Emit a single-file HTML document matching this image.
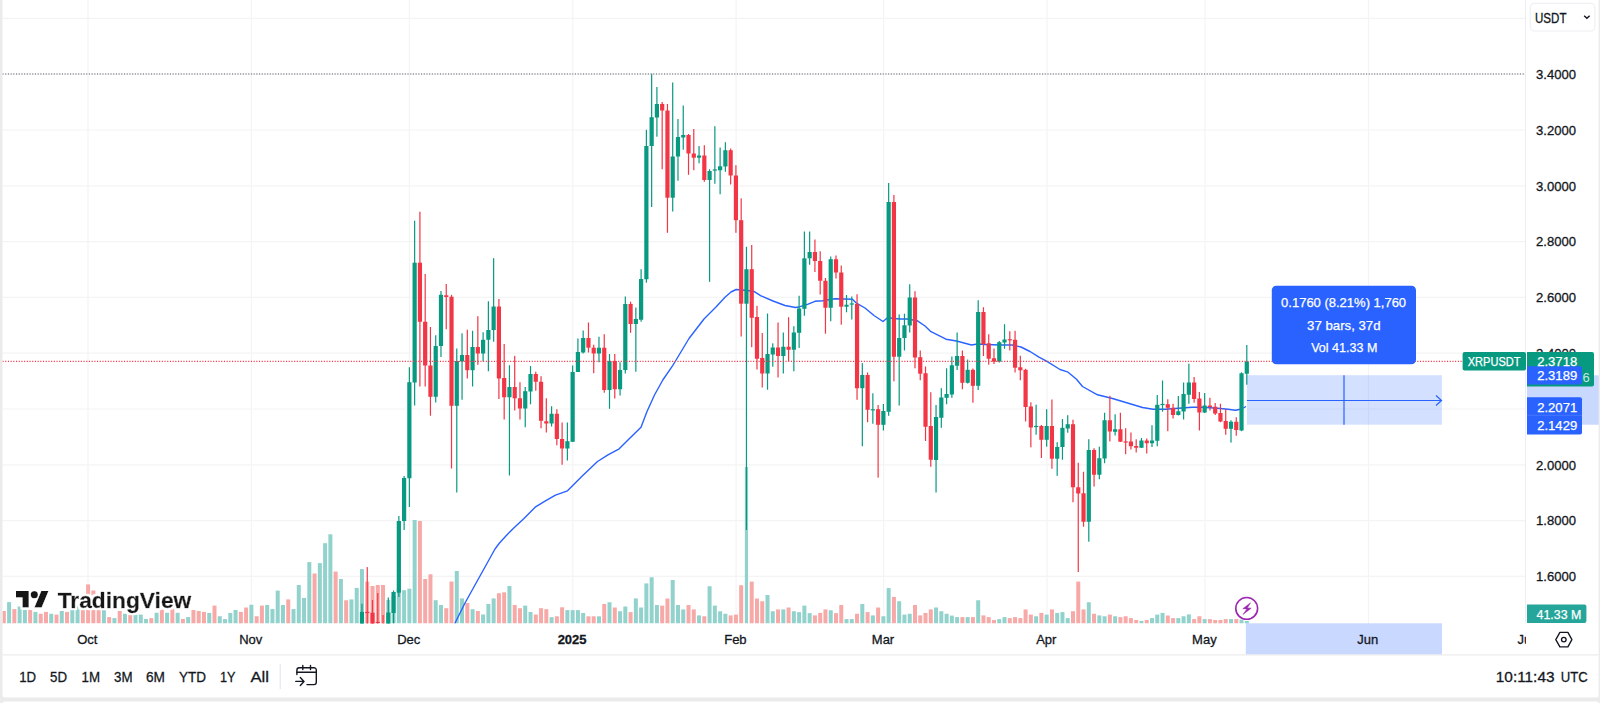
<!DOCTYPE html>
<html lang="en"><head><meta charset="utf-8"><title>XRPUSDT chart</title>
<style>html,body{margin:0;padding:0;background:#fff;overflow:hidden}body{width:1600px;height:703px;position:relative;font-family:"Liberation Sans", sans-serif}svg{position:absolute;left:0;top:0;display:block}text{font-family:"Liberation Sans", sans-serif;fill:#131722;stroke:#131722;stroke-width:.3px}.ax{font-size:13px}.tb{font-size:15px}.w{fill:#fff;stroke:#fff;stroke-width:.25px}</style></head><body>
<svg width="1600" height="703" viewBox="0 0 1600 703">
<rect x="0" y="0" width="1600" height="703" fill="#fff"/>
<defs><clipPath id="pane"><rect x="2.5" y="0" width="1523.5" height="623.5"/></clipPath><clipPath id="taxis"><rect x="2.5" y="623" width="1523.5" height="33"/></clipPath></defs>
<g stroke="#f4f4f5" stroke-width="1.2" shape-rendering="auto">
<line x1="88.0" y1="0" x2="88.0" y2="623.5"/>
<line x1="251.4" y1="0" x2="251.4" y2="623.5"/>
<line x1="409.4" y1="0" x2="409.4" y2="623.5"/>
<line x1="572.8" y1="0" x2="572.8" y2="623.5"/>
<line x1="736.1" y1="0" x2="736.1" y2="623.5"/>
<line x1="883.7" y1="0" x2="883.7" y2="623.5"/>
<line x1="1047.0" y1="0" x2="1047.0" y2="623.5"/>
<line x1="1205.1" y1="0" x2="1205.1" y2="623.5"/>
<line x1="1368.5" y1="0" x2="1368.5" y2="623.5"/>
<line x1="2.5" y1="18.4" x2="1526.0" y2="18.4"/>
<line x1="2.5" y1="74.2" x2="1526.0" y2="74.2"/>
<line x1="2.5" y1="130.0" x2="1526.0" y2="130.0"/>
<line x1="2.5" y1="185.8" x2="1526.0" y2="185.8"/>
<line x1="2.5" y1="241.6" x2="1526.0" y2="241.6"/>
<line x1="2.5" y1="297.4" x2="1526.0" y2="297.4"/>
<line x1="2.5" y1="353.2" x2="1526.0" y2="353.2"/>
<line x1="2.5" y1="409.0" x2="1526.0" y2="409.0"/>
<line x1="2.5" y1="464.8" x2="1526.0" y2="464.8"/>
<line x1="2.5" y1="520.6" x2="1526.0" y2="520.6"/>
<line x1="2.5" y1="576.4" x2="1526.0" y2="576.4"/>
</g>
<g clip-path="url(#pane)">
<rect x="1.83" y="611.00" width="4.0" height="12.50" fill="#f7a9a7"/>
<rect x="7.10" y="602.10" width="4.0" height="21.40" fill="#92d2cc"/>
<rect x="12.36" y="609.10" width="4.0" height="14.40" fill="#f7a9a7"/>
<rect x="17.63" y="606.50" width="4.0" height="17.00" fill="#92d2cc"/>
<rect x="22.90" y="610.00" width="4.0" height="13.50" fill="#92d2cc"/>
<rect x="28.17" y="610.00" width="4.0" height="13.50" fill="#f7a9a7"/>
<rect x="33.43" y="611.90" width="4.0" height="11.60" fill="#92d2cc"/>
<rect x="38.70" y="613.75" width="4.0" height="9.75" fill="#f7a9a7"/>
<rect x="43.97" y="611.90" width="4.0" height="11.60" fill="#f7a9a7"/>
<rect x="49.23" y="613.75" width="4.0" height="9.75" fill="#92d2cc"/>
<rect x="54.50" y="614.60" width="4.0" height="8.90" fill="#f7a9a7"/>
<rect x="59.77" y="611.00" width="4.0" height="12.50" fill="#92d2cc"/>
<rect x="65.03" y="611.90" width="4.0" height="11.60" fill="#f7a9a7"/>
<rect x="70.30" y="610.00" width="4.0" height="13.50" fill="#92d2cc"/>
<rect x="75.57" y="606.50" width="4.0" height="17.00" fill="#92d2cc"/>
<rect x="80.83" y="610.00" width="4.0" height="13.50" fill="#f7a9a7"/>
<rect x="86.10" y="584.40" width="4.0" height="39.10" fill="#f7a9a7"/>
<rect x="91.37" y="590.50" width="4.0" height="33.00" fill="#f7a9a7"/>
<rect x="96.63" y="610.00" width="4.0" height="13.50" fill="#f7a9a7"/>
<rect x="101.90" y="610.00" width="4.0" height="13.50" fill="#92d2cc"/>
<rect x="107.17" y="617.10" width="4.0" height="6.40" fill="#f7a9a7"/>
<rect x="112.43" y="618.10" width="4.0" height="5.40" fill="#92d2cc"/>
<rect x="117.70" y="611.00" width="4.0" height="12.50" fill="#f7a9a7"/>
<rect x="122.97" y="613.75" width="4.0" height="9.75" fill="#92d2cc"/>
<rect x="128.23" y="615.00" width="4.0" height="8.50" fill="#f7a9a7"/>
<rect x="133.50" y="614.40" width="4.0" height="9.10" fill="#92d2cc"/>
<rect x="138.77" y="614.60" width="4.0" height="8.90" fill="#92d2cc"/>
<rect x="144.03" y="619.00" width="4.0" height="4.50" fill="#92d2cc"/>
<rect x="149.30" y="618.10" width="4.0" height="5.40" fill="#f7a9a7"/>
<rect x="154.57" y="612.75" width="4.0" height="10.75" fill="#92d2cc"/>
<rect x="159.84" y="609.40" width="4.0" height="14.10" fill="#f7a9a7"/>
<rect x="165.10" y="612.75" width="4.0" height="10.75" fill="#92d2cc"/>
<rect x="170.37" y="608.75" width="4.0" height="14.75" fill="#f7a9a7"/>
<rect x="175.64" y="612.75" width="4.0" height="10.75" fill="#92d2cc"/>
<rect x="180.90" y="619.00" width="4.0" height="4.50" fill="#f7a9a7"/>
<rect x="186.17" y="617.10" width="4.0" height="6.40" fill="#92d2cc"/>
<rect x="191.44" y="610.00" width="4.0" height="13.50" fill="#f7a9a7"/>
<rect x="196.70" y="611.00" width="4.0" height="12.50" fill="#f7a9a7"/>
<rect x="201.97" y="611.90" width="4.0" height="11.60" fill="#f7a9a7"/>
<rect x="207.24" y="612.90" width="4.0" height="10.60" fill="#92d2cc"/>
<rect x="212.50" y="605.60" width="4.0" height="17.90" fill="#f7a9a7"/>
<rect x="217.77" y="616.25" width="4.0" height="7.25" fill="#92d2cc"/>
<rect x="223.04" y="619.10" width="4.0" height="4.40" fill="#92d2cc"/>
<rect x="228.30" y="612.90" width="4.0" height="10.60" fill="#92d2cc"/>
<rect x="233.57" y="610.00" width="4.0" height="13.50" fill="#92d2cc"/>
<rect x="238.84" y="611.90" width="4.0" height="11.60" fill="#f7a9a7"/>
<rect x="244.10" y="607.50" width="4.0" height="16.00" fill="#f7a9a7"/>
<rect x="249.37" y="604.75" width="4.0" height="18.75" fill="#92d2cc"/>
<rect x="254.64" y="616.25" width="4.0" height="7.25" fill="#f7a9a7"/>
<rect x="259.90" y="605.60" width="4.0" height="17.90" fill="#f7a9a7"/>
<rect x="265.17" y="605.00" width="4.0" height="18.50" fill="#92d2cc"/>
<rect x="270.44" y="609.10" width="4.0" height="14.40" fill="#92d2cc"/>
<rect x="275.70" y="590.60" width="4.0" height="32.90" fill="#92d2cc"/>
<rect x="280.97" y="605.00" width="4.0" height="18.50" fill="#92d2cc"/>
<rect x="286.24" y="599.40" width="4.0" height="24.10" fill="#f7a9a7"/>
<rect x="291.51" y="609.10" width="4.0" height="14.40" fill="#92d2cc"/>
<rect x="296.77" y="585.00" width="4.0" height="38.50" fill="#92d2cc"/>
<rect x="302.04" y="597.90" width="4.0" height="25.60" fill="#92d2cc"/>
<rect x="307.31" y="562.10" width="4.0" height="61.40" fill="#92d2cc"/>
<rect x="312.57" y="573.50" width="4.0" height="50.00" fill="#f7a9a7"/>
<rect x="317.84" y="563.10" width="4.0" height="60.40" fill="#92d2cc"/>
<rect x="323.11" y="543.20" width="4.0" height="80.30" fill="#92d2cc"/>
<rect x="328.37" y="534.30" width="4.0" height="89.20" fill="#92d2cc"/>
<rect x="333.64" y="571.60" width="4.0" height="51.90" fill="#f7a9a7"/>
<rect x="338.91" y="579.00" width="4.0" height="44.50" fill="#92d2cc"/>
<rect x="344.17" y="600.25" width="4.0" height="23.25" fill="#f7a9a7"/>
<rect x="349.44" y="599.40" width="4.0" height="24.10" fill="#92d2cc"/>
<rect x="354.71" y="587.90" width="4.0" height="35.60" fill="#92d2cc"/>
<rect x="359.97" y="569.10" width="4.0" height="54.40" fill="#92d2cc"/>
<rect x="365.24" y="581.60" width="4.0" height="41.90" fill="#f7a9a7"/>
<rect x="370.51" y="586.00" width="4.0" height="37.50" fill="#f7a9a7"/>
<rect x="375.77" y="585.00" width="4.0" height="38.50" fill="#f7a9a7"/>
<rect x="381.04" y="585.00" width="4.0" height="38.50" fill="#f7a9a7"/>
<rect x="386.31" y="600.00" width="4.0" height="23.50" fill="#92d2cc"/>
<rect x="391.57" y="596.00" width="4.0" height="27.50" fill="#92d2cc"/>
<rect x="396.84" y="588.00" width="4.0" height="35.50" fill="#92d2cc"/>
<rect x="402.11" y="590.20" width="4.0" height="33.30" fill="#92d2cc"/>
<rect x="407.37" y="588.70" width="4.0" height="34.80" fill="#92d2cc"/>
<rect x="412.64" y="520.00" width="4.0" height="103.50" fill="#92d2cc"/>
<rect x="417.91" y="521.00" width="4.0" height="102.50" fill="#f7a9a7"/>
<rect x="423.18" y="579.00" width="4.0" height="44.50" fill="#f7a9a7"/>
<rect x="428.44" y="574.30" width="4.0" height="49.20" fill="#f7a9a7"/>
<rect x="433.71" y="600.20" width="4.0" height="23.30" fill="#92d2cc"/>
<rect x="438.98" y="605.00" width="4.0" height="18.50" fill="#92d2cc"/>
<rect x="444.24" y="608.20" width="4.0" height="15.30" fill="#f7a9a7"/>
<rect x="449.51" y="581.50" width="4.0" height="42.00" fill="#f7a9a7"/>
<rect x="454.78" y="571.00" width="4.0" height="52.50" fill="#92d2cc"/>
<rect x="460.04" y="598.40" width="4.0" height="25.10" fill="#92d2cc"/>
<rect x="465.31" y="603.00" width="4.0" height="20.50" fill="#f7a9a7"/>
<rect x="470.58" y="609.20" width="4.0" height="14.30" fill="#92d2cc"/>
<rect x="475.84" y="611.00" width="4.0" height="12.50" fill="#f7a9a7"/>
<rect x="481.11" y="614.50" width="4.0" height="9.00" fill="#92d2cc"/>
<rect x="486.38" y="604.00" width="4.0" height="19.50" fill="#92d2cc"/>
<rect x="491.64" y="598.40" width="4.0" height="25.10" fill="#92d2cc"/>
<rect x="496.91" y="593.20" width="4.0" height="30.30" fill="#f7a9a7"/>
<rect x="502.18" y="592.30" width="4.0" height="31.20" fill="#f7a9a7"/>
<rect x="507.44" y="586.00" width="4.0" height="37.50" fill="#92d2cc"/>
<rect x="512.71" y="605.00" width="4.0" height="18.50" fill="#f7a9a7"/>
<rect x="517.98" y="608.20" width="4.0" height="15.30" fill="#f7a9a7"/>
<rect x="523.24" y="605.60" width="4.0" height="17.90" fill="#92d2cc"/>
<rect x="528.51" y="612.00" width="4.0" height="11.50" fill="#92d2cc"/>
<rect x="533.78" y="614.50" width="4.0" height="9.00" fill="#f7a9a7"/>
<rect x="539.04" y="608.20" width="4.0" height="15.30" fill="#f7a9a7"/>
<rect x="544.31" y="609.20" width="4.0" height="14.30" fill="#f7a9a7"/>
<rect x="549.58" y="617.20" width="4.0" height="6.30" fill="#92d2cc"/>
<rect x="554.85" y="616.30" width="4.0" height="7.20" fill="#f7a9a7"/>
<rect x="560.11" y="607.30" width="4.0" height="16.20" fill="#f7a9a7"/>
<rect x="565.38" y="610.10" width="4.0" height="13.40" fill="#92d2cc"/>
<rect x="570.65" y="610.10" width="4.0" height="13.40" fill="#92d2cc"/>
<rect x="575.91" y="610.10" width="4.0" height="13.40" fill="#92d2cc"/>
<rect x="581.18" y="613.00" width="4.0" height="10.50" fill="#92d2cc"/>
<rect x="586.45" y="616.30" width="4.0" height="7.20" fill="#f7a9a7"/>
<rect x="591.71" y="616.30" width="4.0" height="7.20" fill="#f7a9a7"/>
<rect x="596.98" y="616.30" width="4.0" height="7.20" fill="#92d2cc"/>
<rect x="602.25" y="604.00" width="4.0" height="19.50" fill="#f7a9a7"/>
<rect x="607.51" y="602.25" width="4.0" height="21.25" fill="#92d2cc"/>
<rect x="612.78" y="607.50" width="4.0" height="16.00" fill="#f7a9a7"/>
<rect x="618.05" y="611.25" width="4.0" height="12.25" fill="#92d2cc"/>
<rect x="623.31" y="606.50" width="4.0" height="17.00" fill="#92d2cc"/>
<rect x="628.58" y="612.10" width="4.0" height="11.40" fill="#f7a9a7"/>
<rect x="633.85" y="598.40" width="4.0" height="25.10" fill="#92d2cc"/>
<rect x="639.11" y="607.50" width="4.0" height="16.00" fill="#92d2cc"/>
<rect x="644.38" y="583.40" width="4.0" height="40.10" fill="#92d2cc"/>
<rect x="649.65" y="577.25" width="4.0" height="46.25" fill="#92d2cc"/>
<rect x="654.91" y="605.00" width="4.0" height="18.50" fill="#92d2cc"/>
<rect x="660.18" y="605.60" width="4.0" height="17.90" fill="#f7a9a7"/>
<rect x="665.45" y="598.50" width="4.0" height="25.00" fill="#f7a9a7"/>
<rect x="670.71" y="580.00" width="4.0" height="43.50" fill="#92d2cc"/>
<rect x="675.98" y="605.00" width="4.0" height="18.50" fill="#92d2cc"/>
<rect x="681.25" y="609.40" width="4.0" height="14.10" fill="#92d2cc"/>
<rect x="686.52" y="605.00" width="4.0" height="18.50" fill="#f7a9a7"/>
<rect x="691.78" y="609.40" width="4.0" height="14.10" fill="#f7a9a7"/>
<rect x="697.05" y="615.40" width="4.0" height="8.10" fill="#92d2cc"/>
<rect x="702.32" y="616.25" width="4.0" height="7.25" fill="#f7a9a7"/>
<rect x="707.58" y="586.25" width="4.0" height="37.25" fill="#92d2cc"/>
<rect x="712.85" y="605.60" width="4.0" height="17.90" fill="#92d2cc"/>
<rect x="718.12" y="611.25" width="4.0" height="12.25" fill="#92d2cc"/>
<rect x="723.38" y="613.75" width="4.0" height="9.75" fill="#92d2cc"/>
<rect x="728.65" y="615.40" width="4.0" height="8.10" fill="#f7a9a7"/>
<rect x="733.92" y="614.60" width="4.0" height="8.90" fill="#f7a9a7"/>
<rect x="739.18" y="585.25" width="4.0" height="38.25" fill="#f7a9a7"/>
<rect x="744.85" y="467.00" width="3.2" height="156.50" fill="#92d2cc"/>
<rect x="749.72" y="581.60" width="4.0" height="41.90" fill="#f7a9a7"/>
<rect x="754.98" y="598.50" width="4.0" height="25.00" fill="#f7a9a7"/>
<rect x="760.25" y="601.25" width="4.0" height="22.25" fill="#f7a9a7"/>
<rect x="765.52" y="595.00" width="4.0" height="28.50" fill="#92d2cc"/>
<rect x="770.78" y="611.25" width="4.0" height="12.25" fill="#92d2cc"/>
<rect x="776.05" y="609.40" width="4.0" height="14.10" fill="#f7a9a7"/>
<rect x="781.32" y="609.40" width="4.0" height="14.10" fill="#92d2cc"/>
<rect x="786.58" y="607.50" width="4.0" height="16.00" fill="#f7a9a7"/>
<rect x="791.85" y="611.25" width="4.0" height="12.25" fill="#92d2cc"/>
<rect x="797.12" y="612.10" width="4.0" height="11.40" fill="#92d2cc"/>
<rect x="802.38" y="605.60" width="4.0" height="17.90" fill="#92d2cc"/>
<rect x="807.65" y="613.10" width="4.0" height="10.40" fill="#92d2cc"/>
<rect x="812.92" y="615.40" width="4.0" height="8.10" fill="#f7a9a7"/>
<rect x="818.19" y="612.90" width="4.0" height="10.60" fill="#f7a9a7"/>
<rect x="823.45" y="609.40" width="4.0" height="14.10" fill="#f7a9a7"/>
<rect x="828.72" y="610.25" width="4.0" height="13.25" fill="#92d2cc"/>
<rect x="833.99" y="613.10" width="4.0" height="10.40" fill="#f7a9a7"/>
<rect x="839.25" y="605.00" width="4.0" height="18.50" fill="#f7a9a7"/>
<rect x="844.52" y="619.10" width="4.0" height="4.40" fill="#92d2cc"/>
<rect x="849.79" y="619.10" width="4.0" height="4.40" fill="#92d2cc"/>
<rect x="855.05" y="613.75" width="4.0" height="9.75" fill="#f7a9a7"/>
<rect x="860.32" y="604.00" width="4.0" height="19.50" fill="#92d2cc"/>
<rect x="865.59" y="612.10" width="4.0" height="11.40" fill="#f7a9a7"/>
<rect x="870.85" y="615.40" width="4.0" height="8.10" fill="#92d2cc"/>
<rect x="876.12" y="607.50" width="4.0" height="16.00" fill="#f7a9a7"/>
<rect x="881.39" y="616.25" width="4.0" height="7.25" fill="#92d2cc"/>
<rect x="886.65" y="588.10" width="4.0" height="35.40" fill="#92d2cc"/>
<rect x="891.92" y="596.90" width="4.0" height="26.60" fill="#f7a9a7"/>
<rect x="897.19" y="601.25" width="4.0" height="22.25" fill="#92d2cc"/>
<rect x="902.45" y="614.60" width="4.0" height="8.90" fill="#92d2cc"/>
<rect x="907.72" y="613.75" width="4.0" height="9.75" fill="#92d2cc"/>
<rect x="912.99" y="605.00" width="4.0" height="18.50" fill="#f7a9a7"/>
<rect x="918.25" y="615.40" width="4.0" height="8.10" fill="#f7a9a7"/>
<rect x="923.52" y="612.90" width="4.0" height="10.60" fill="#f7a9a7"/>
<rect x="928.79" y="609.40" width="4.0" height="14.10" fill="#f7a9a7"/>
<rect x="934.05" y="607.50" width="4.0" height="16.00" fill="#92d2cc"/>
<rect x="939.32" y="611.25" width="4.0" height="12.25" fill="#92d2cc"/>
<rect x="944.59" y="613.75" width="4.0" height="9.75" fill="#92d2cc"/>
<rect x="949.86" y="615.60" width="4.0" height="7.90" fill="#92d2cc"/>
<rect x="955.12" y="617.10" width="4.0" height="6.40" fill="#92d2cc"/>
<rect x="960.39" y="617.10" width="4.0" height="6.40" fill="#f7a9a7"/>
<rect x="965.66" y="617.10" width="4.0" height="6.40" fill="#92d2cc"/>
<rect x="970.92" y="617.10" width="4.0" height="6.40" fill="#f7a9a7"/>
<rect x="976.19" y="600.25" width="4.0" height="23.25" fill="#92d2cc"/>
<rect x="981.46" y="615.40" width="4.0" height="8.10" fill="#f7a9a7"/>
<rect x="986.72" y="617.10" width="4.0" height="6.40" fill="#f7a9a7"/>
<rect x="991.99" y="620.00" width="4.0" height="3.50" fill="#f7a9a7"/>
<rect x="997.26" y="619.10" width="4.0" height="4.40" fill="#92d2cc"/>
<rect x="1002.52" y="617.10" width="4.0" height="6.40" fill="#92d2cc"/>
<rect x="1007.79" y="618.10" width="4.0" height="5.40" fill="#f7a9a7"/>
<rect x="1013.06" y="617.10" width="4.0" height="6.40" fill="#f7a9a7"/>
<rect x="1018.32" y="618.10" width="4.0" height="5.40" fill="#f7a9a7"/>
<rect x="1023.59" y="609.40" width="4.0" height="14.10" fill="#f7a9a7"/>
<rect x="1028.86" y="614.60" width="4.0" height="8.90" fill="#f7a9a7"/>
<rect x="1034.12" y="616.25" width="4.0" height="7.25" fill="#92d2cc"/>
<rect x="1039.39" y="612.90" width="4.0" height="10.60" fill="#f7a9a7"/>
<rect x="1044.66" y="614.60" width="4.0" height="8.90" fill="#92d2cc"/>
<rect x="1049.92" y="609.40" width="4.0" height="14.10" fill="#f7a9a7"/>
<rect x="1055.19" y="612.90" width="4.0" height="10.60" fill="#92d2cc"/>
<rect x="1060.46" y="612.10" width="4.0" height="11.40" fill="#92d2cc"/>
<rect x="1065.72" y="618.10" width="4.0" height="5.40" fill="#92d2cc"/>
<rect x="1070.99" y="611.25" width="4.0" height="12.25" fill="#f7a9a7"/>
<rect x="1076.26" y="581.60" width="4.0" height="41.90" fill="#f7a9a7"/>
<rect x="1081.53" y="609.40" width="4.0" height="14.10" fill="#f7a9a7"/>
<rect x="1086.79" y="602.25" width="4.0" height="21.25" fill="#92d2cc"/>
<rect x="1092.06" y="613.75" width="4.0" height="9.75" fill="#f7a9a7"/>
<rect x="1097.33" y="615.40" width="4.0" height="8.10" fill="#92d2cc"/>
<rect x="1102.59" y="616.25" width="4.0" height="7.25" fill="#92d2cc"/>
<rect x="1107.86" y="614.60" width="4.0" height="8.90" fill="#f7a9a7"/>
<rect x="1113.13" y="616.25" width="4.0" height="7.25" fill="#92d2cc"/>
<rect x="1118.39" y="617.10" width="4.0" height="6.40" fill="#f7a9a7"/>
<rect x="1123.66" y="616.25" width="4.0" height="7.25" fill="#f7a9a7"/>
<rect x="1128.93" y="618.10" width="4.0" height="5.40" fill="#f7a9a7"/>
<rect x="1134.19" y="620.00" width="4.0" height="3.50" fill="#f7a9a7"/>
<rect x="1139.46" y="620.90" width="4.0" height="2.60" fill="#92d2cc"/>
<rect x="1144.73" y="620.00" width="4.0" height="3.50" fill="#f7a9a7"/>
<rect x="1149.99" y="618.10" width="4.0" height="5.40" fill="#92d2cc"/>
<rect x="1155.26" y="614.60" width="4.0" height="8.90" fill="#92d2cc"/>
<rect x="1160.53" y="612.90" width="4.0" height="10.60" fill="#92d2cc"/>
<rect x="1165.79" y="615.50" width="4.0" height="8.00" fill="#f7a9a7"/>
<rect x="1171.06" y="618.10" width="4.0" height="5.40" fill="#f7a9a7"/>
<rect x="1176.33" y="618.10" width="4.0" height="5.40" fill="#92d2cc"/>
<rect x="1181.59" y="616.25" width="4.0" height="7.25" fill="#92d2cc"/>
<rect x="1186.86" y="614.40" width="4.0" height="9.10" fill="#92d2cc"/>
<rect x="1192.13" y="619.10" width="4.0" height="4.40" fill="#f7a9a7"/>
<rect x="1197.39" y="616.25" width="4.0" height="7.25" fill="#f7a9a7"/>
<rect x="1202.66" y="619.10" width="4.0" height="4.40" fill="#92d2cc"/>
<rect x="1207.93" y="619.10" width="4.0" height="4.40" fill="#f7a9a7"/>
<rect x="1213.20" y="620.00" width="4.0" height="3.50" fill="#f7a9a7"/>
<rect x="1218.46" y="620.00" width="4.0" height="3.50" fill="#f7a9a7"/>
<rect x="1223.73" y="619.10" width="4.0" height="4.40" fill="#f7a9a7"/>
<rect x="1229.00" y="619.10" width="4.0" height="4.40" fill="#92d2cc"/>
<rect x="1234.26" y="619.10" width="4.0" height="4.40" fill="#f7a9a7"/>
<rect x="1239.53" y="619.60" width="4.0" height="3.90" fill="#92d2cc"/>
<rect x="1244.80" y="621.00" width="4.0" height="2.50" fill="#92d2cc"/>
<polyline points="454.8,623.5 465.0,603.0 480.0,576.0 495.0,549.0 499.5,543.0 507.5,534.2 513.5,528.2 524.0,518.5 535.2,507.2 545.0,501.2 555.5,495.2 567.5,490.8 582.5,475.8 597.5,461.5 608.0,454.8 619.2,448.8 629.0,439.0 641.0,427.2 647.0,411.5 654.5,395.0 662.8,380.0 672.5,365.8 675.5,361.0 689.0,338.5 704.0,319.0 716.0,307.0 725.0,297.2 731.0,292.0 736.2,289.5 740.0,289.8 753.5,291.2 761.0,295.8 773.0,301.0 785.0,305.5 795.5,307.5 800.0,306.7 807.5,304.3 815.0,301.3 822.5,300.7 835.0,298.8 852.5,299.2 856.0,302.8 865.0,308.0 874.0,315.5 883.0,321.5 887.5,317.8 899.5,319.0 907.0,319.0 917.5,320.8 925.0,326.0 931.0,331.7 946.0,339.2 956.5,341.0 971.5,345.0 977.5,344.0 985.0,344.5 1000.0,345.0 1012.0,345.0 1021.0,347.0 1030.0,351.5 1039.0,357.2 1046.5,361.2 1060.0,369.5 1067.5,371.8 1076.5,379.2 1082.5,386.5 1097.5,394.8 1112.5,398.5 1127.5,403.0 1142.5,407.5 1153.0,409.3 1165.0,409.3 1192.0,407.2 1202.5,407.2 1217.5,408.2 1228.0,409.3 1235.5,410.2 1241.5,409.0 1246.0,406.5" fill="none" stroke="#2962ff" stroke-width="1.4" stroke-linejoin="round"/>
<rect x="361.37" y="603.75" width="1.2" height="26.25" fill="#089981"/>
<rect x="359.87" y="611.90" width="4.2" height="18.10" fill="#089981"/>
<rect x="366.64" y="567.10" width="1.2" height="62.90" fill="#f23645"/>
<rect x="365.14" y="611.90" width="4.2" height="1.20" fill="#f23645"/>
<rect x="371.91" y="600.00" width="1.2" height="30.00" fill="#f23645"/>
<rect x="370.41" y="612.75" width="4.2" height="17.25" fill="#f23645"/>
<rect x="377.17" y="593.00" width="1.2" height="37.00" fill="#f23645"/>
<rect x="375.67" y="621.90" width="4.2" height="1.20" fill="#f23645"/>
<rect x="382.44" y="615.00" width="1.2" height="15.00" fill="#f23645"/>
<rect x="380.94" y="624.00" width="4.2" height="6.00" fill="#f23645"/>
<rect x="387.71" y="597.50" width="1.2" height="32.50" fill="#089981"/>
<rect x="386.21" y="612.50" width="4.2" height="17.50" fill="#089981"/>
<rect x="392.97" y="590.50" width="1.2" height="33.00" fill="#089981"/>
<rect x="391.47" y="592.00" width="4.2" height="21.00" fill="#089981"/>
<rect x="398.24" y="516.00" width="1.2" height="81.00" fill="#089981"/>
<rect x="396.74" y="521.00" width="4.2" height="71.70" fill="#089981"/>
<rect x="403.51" y="476.00" width="1.2" height="54.00" fill="#089981"/>
<rect x="402.01" y="478.00" width="4.2" height="43.00" fill="#089981"/>
<rect x="408.77" y="367.20" width="1.2" height="139.80" fill="#089981"/>
<rect x="407.27" y="382.20" width="4.2" height="96.05" fill="#089981"/>
<rect x="414.04" y="220.70" width="1.2" height="184.80" fill="#089981"/>
<rect x="412.54" y="262.70" width="4.2" height="119.80" fill="#089981"/>
<rect x="419.31" y="211.70" width="1.2" height="174.80" fill="#f23645"/>
<rect x="417.81" y="262.70" width="4.2" height="59.05" fill="#f23645"/>
<rect x="424.58" y="274.00" width="1.2" height="112.50" fill="#f23645"/>
<rect x="423.08" y="321.75" width="4.2" height="43.75" fill="#f23645"/>
<rect x="429.84" y="327.00" width="1.2" height="88.70" fill="#f23645"/>
<rect x="428.34" y="365.50" width="4.2" height="31.30" fill="#f23645"/>
<rect x="435.11" y="335.25" width="1.2" height="67.25" fill="#089981"/>
<rect x="433.61" y="346.00" width="4.2" height="50.80" fill="#089981"/>
<rect x="440.38" y="291.00" width="1.2" height="66.00" fill="#089981"/>
<rect x="438.88" y="294.80" width="4.2" height="51.20" fill="#089981"/>
<rect x="445.64" y="284.00" width="1.2" height="45.25" fill="#f23645"/>
<rect x="444.14" y="295.30" width="4.2" height="1.70" fill="#f23645"/>
<rect x="450.91" y="294.80" width="1.2" height="173.70" fill="#f23645"/>
<rect x="449.41" y="296.75" width="4.2" height="109.05" fill="#f23645"/>
<rect x="456.18" y="348.50" width="1.2" height="144.00" fill="#089981"/>
<rect x="454.68" y="361.00" width="4.2" height="44.80" fill="#089981"/>
<rect x="461.44" y="333.30" width="1.2" height="66.45" fill="#089981"/>
<rect x="459.94" y="355.00" width="4.2" height="6.50" fill="#089981"/>
<rect x="466.71" y="329.70" width="1.2" height="48.80" fill="#f23645"/>
<rect x="465.21" y="355.00" width="4.2" height="15.20" fill="#f23645"/>
<rect x="471.98" y="330.75" width="1.2" height="55.75" fill="#089981"/>
<rect x="470.48" y="347.00" width="4.2" height="23.20" fill="#089981"/>
<rect x="477.24" y="316.20" width="1.2" height="48.60" fill="#f23645"/>
<rect x="475.74" y="347.00" width="4.2" height="6.50" fill="#f23645"/>
<rect x="482.51" y="332.25" width="1.2" height="29.25" fill="#089981"/>
<rect x="481.01" y="339.75" width="4.2" height="13.75" fill="#089981"/>
<rect x="487.78" y="301.25" width="1.2" height="70.00" fill="#089981"/>
<rect x="486.28" y="330.00" width="4.2" height="9.75" fill="#089981"/>
<rect x="493.04" y="258.20" width="1.2" height="83.50" fill="#089981"/>
<rect x="491.54" y="306.50" width="4.2" height="23.50" fill="#089981"/>
<rect x="498.31" y="299.00" width="1.2" height="100.00" fill="#f23645"/>
<rect x="496.81" y="306.50" width="4.2" height="72.00" fill="#f23645"/>
<rect x="503.58" y="344.00" width="1.2" height="75.50" fill="#f23645"/>
<rect x="502.08" y="378.00" width="4.2" height="19.25" fill="#f23645"/>
<rect x="508.84" y="365.25" width="1.2" height="110.25" fill="#089981"/>
<rect x="507.34" y="387.00" width="4.2" height="10.25" fill="#089981"/>
<rect x="514.11" y="355.80" width="1.2" height="54.70" fill="#f23645"/>
<rect x="512.61" y="387.00" width="4.2" height="11.30" fill="#f23645"/>
<rect x="519.38" y="382.20" width="1.2" height="37.30" fill="#f23645"/>
<rect x="517.88" y="398.25" width="4.2" height="10.25" fill="#f23645"/>
<rect x="524.64" y="387.00" width="1.2" height="40.25" fill="#089981"/>
<rect x="523.14" y="391.20" width="4.2" height="17.30" fill="#089981"/>
<rect x="529.91" y="366.00" width="1.2" height="38.30" fill="#089981"/>
<rect x="528.41" y="374.00" width="4.2" height="17.50" fill="#089981"/>
<rect x="535.18" y="371.70" width="1.2" height="19.05" fill="#f23645"/>
<rect x="533.68" y="374.00" width="4.2" height="7.75" fill="#f23645"/>
<rect x="540.44" y="376.20" width="1.2" height="52.10" fill="#f23645"/>
<rect x="538.94" y="381.75" width="4.2" height="39.05" fill="#f23645"/>
<rect x="545.71" y="398.25" width="1.2" height="34.25" fill="#f23645"/>
<rect x="544.21" y="421.25" width="4.2" height="2.25" fill="#f23645"/>
<rect x="550.98" y="406.25" width="1.2" height="20.25" fill="#089981"/>
<rect x="549.48" y="413.75" width="4.2" height="9.75" fill="#089981"/>
<rect x="556.25" y="409.25" width="1.2" height="36.00" fill="#f23645"/>
<rect x="554.75" y="413.75" width="4.2" height="25.25" fill="#f23645"/>
<rect x="561.51" y="422.50" width="1.2" height="42.25" fill="#f23645"/>
<rect x="560.01" y="439.00" width="4.2" height="9.50" fill="#f23645"/>
<rect x="566.78" y="422.50" width="1.2" height="38.00" fill="#089981"/>
<rect x="565.28" y="441.20" width="4.2" height="7.30" fill="#089981"/>
<rect x="572.05" y="365.50" width="1.2" height="76.30" fill="#089981"/>
<rect x="570.55" y="372.00" width="4.2" height="69.80" fill="#089981"/>
<rect x="577.31" y="338.50" width="1.2" height="33.50" fill="#089981"/>
<rect x="575.81" y="352.00" width="4.2" height="20.00" fill="#089981"/>
<rect x="582.58" y="330.50" width="1.2" height="23.00" fill="#089981"/>
<rect x="581.08" y="338.00" width="4.2" height="14.50" fill="#089981"/>
<rect x="587.85" y="322.50" width="1.2" height="30.00" fill="#f23645"/>
<rect x="586.35" y="338.00" width="4.2" height="9.70" fill="#f23645"/>
<rect x="593.11" y="344.70" width="1.2" height="28.50" fill="#f23645"/>
<rect x="591.61" y="347.70" width="4.2" height="5.80" fill="#f23645"/>
<rect x="598.38" y="336.75" width="1.2" height="25.50" fill="#089981"/>
<rect x="596.88" y="347.70" width="4.2" height="5.80" fill="#089981"/>
<rect x="603.65" y="334.20" width="1.2" height="58.50" fill="#f23645"/>
<rect x="602.15" y="347.70" width="4.2" height="42.30" fill="#f23645"/>
<rect x="608.91" y="354.00" width="1.2" height="54.80" fill="#089981"/>
<rect x="607.41" y="361.00" width="4.2" height="29.00" fill="#089981"/>
<rect x="614.18" y="354.00" width="1.2" height="44.50" fill="#f23645"/>
<rect x="612.68" y="361.00" width="4.2" height="28.25" fill="#f23645"/>
<rect x="619.45" y="362.25" width="1.2" height="33.25" fill="#089981"/>
<rect x="617.95" y="370.00" width="4.2" height="19.25" fill="#089981"/>
<rect x="624.71" y="296.50" width="1.2" height="77.00" fill="#089981"/>
<rect x="623.21" y="304.00" width="4.2" height="66.00" fill="#089981"/>
<rect x="629.98" y="301.75" width="1.2" height="31.05" fill="#f23645"/>
<rect x="628.48" y="304.00" width="4.2" height="20.00" fill="#f23645"/>
<rect x="635.25" y="307.50" width="1.2" height="64.25" fill="#089981"/>
<rect x="633.75" y="319.00" width="4.2" height="5.00" fill="#089981"/>
<rect x="640.51" y="269.20" width="1.2" height="52.50" fill="#089981"/>
<rect x="639.01" y="279.00" width="4.2" height="40.75" fill="#089981"/>
<rect x="645.78" y="129.80" width="1.2" height="152.90" fill="#089981"/>
<rect x="644.28" y="146.00" width="4.2" height="133.25" fill="#089981"/>
<rect x="651.05" y="73.70" width="1.2" height="133.30" fill="#089981"/>
<rect x="649.55" y="117.20" width="4.2" height="28.80" fill="#089981"/>
<rect x="656.31" y="87.00" width="1.2" height="49.70" fill="#089981"/>
<rect x="654.81" y="104.00" width="4.2" height="13.50" fill="#089981"/>
<rect x="661.58" y="102.00" width="1.2" height="67.25" fill="#f23645"/>
<rect x="660.08" y="104.00" width="4.2" height="6.50" fill="#f23645"/>
<rect x="666.85" y="104.00" width="1.2" height="128.80" fill="#f23645"/>
<rect x="665.35" y="110.50" width="4.2" height="87.20" fill="#f23645"/>
<rect x="672.11" y="82.50" width="1.2" height="129.00" fill="#089981"/>
<rect x="670.61" y="156.50" width="4.2" height="41.20" fill="#089981"/>
<rect x="677.38" y="119.00" width="1.2" height="61.75" fill="#089981"/>
<rect x="675.88" y="137.00" width="4.2" height="19.50" fill="#089981"/>
<rect x="682.65" y="105.50" width="1.2" height="44.25" fill="#089981"/>
<rect x="681.15" y="135.00" width="4.2" height="2.50" fill="#089981"/>
<rect x="687.92" y="134.00" width="1.2" height="40.75" fill="#f23645"/>
<rect x="686.42" y="135.00" width="4.2" height="18.50" fill="#f23645"/>
<rect x="693.18" y="129.00" width="1.2" height="41.25" fill="#f23645"/>
<rect x="691.68" y="153.50" width="4.2" height="4.20" fill="#f23645"/>
<rect x="698.45" y="146.00" width="1.2" height="17.25" fill="#089981"/>
<rect x="696.95" y="155.50" width="4.2" height="2.20" fill="#089981"/>
<rect x="703.72" y="145.25" width="1.2" height="36.55" fill="#f23645"/>
<rect x="702.22" y="155.50" width="4.2" height="24.50" fill="#f23645"/>
<rect x="708.98" y="169.25" width="1.2" height="112.55" fill="#089981"/>
<rect x="707.48" y="171.00" width="4.2" height="9.00" fill="#089981"/>
<rect x="714.25" y="126.20" width="1.2" height="57.55" fill="#089981"/>
<rect x="712.75" y="169.40" width="4.2" height="1.20" fill="#089981"/>
<rect x="719.52" y="147.50" width="1.2" height="46.75" fill="#089981"/>
<rect x="718.02" y="166.25" width="4.2" height="4.00" fill="#089981"/>
<rect x="724.78" y="142.25" width="1.2" height="29.50" fill="#089981"/>
<rect x="723.28" y="150.20" width="4.2" height="16.30" fill="#089981"/>
<rect x="730.05" y="148.50" width="1.2" height="36.00" fill="#f23645"/>
<rect x="728.55" y="150.20" width="4.2" height="25.30" fill="#f23645"/>
<rect x="735.32" y="165.20" width="1.2" height="67.60" fill="#f23645"/>
<rect x="733.82" y="175.50" width="4.2" height="44.70" fill="#f23645"/>
<rect x="740.58" y="198.30" width="1.2" height="138.20" fill="#f23645"/>
<rect x="739.08" y="220.20" width="4.2" height="83.50" fill="#f23645"/>
<rect x="745.85" y="246.75" width="1.2" height="283.25" fill="#089981"/>
<rect x="744.35" y="269.20" width="4.2" height="34.50" fill="#089981"/>
<rect x="751.12" y="245.00" width="1.2" height="102.20" fill="#f23645"/>
<rect x="749.62" y="269.20" width="4.2" height="48.60" fill="#f23645"/>
<rect x="756.38" y="305.80" width="1.2" height="63.70" fill="#f23645"/>
<rect x="754.88" y="317.00" width="4.2" height="41.75" fill="#f23645"/>
<rect x="761.65" y="333.00" width="1.2" height="54.50" fill="#f23645"/>
<rect x="760.15" y="358.00" width="4.2" height="15.50" fill="#f23645"/>
<rect x="766.92" y="313.50" width="1.2" height="76.25" fill="#089981"/>
<rect x="765.42" y="354.00" width="4.2" height="19.50" fill="#089981"/>
<rect x="772.18" y="343.30" width="1.2" height="23.40" fill="#089981"/>
<rect x="770.68" y="347.50" width="4.2" height="7.00" fill="#089981"/>
<rect x="777.45" y="322.50" width="1.2" height="55.00" fill="#f23645"/>
<rect x="775.95" y="347.50" width="4.2" height="8.50" fill="#f23645"/>
<rect x="782.72" y="332.50" width="1.2" height="41.00" fill="#089981"/>
<rect x="781.22" y="346.75" width="4.2" height="9.25" fill="#089981"/>
<rect x="787.98" y="317.20" width="1.2" height="43.80" fill="#f23645"/>
<rect x="786.48" y="346.75" width="4.2" height="3.00" fill="#f23645"/>
<rect x="793.25" y="326.20" width="1.2" height="45.10" fill="#089981"/>
<rect x="791.75" y="332.50" width="4.2" height="17.25" fill="#089981"/>
<rect x="798.52" y="295.75" width="1.2" height="52.25" fill="#089981"/>
<rect x="797.02" y="308.50" width="4.2" height="24.30" fill="#089981"/>
<rect x="803.78" y="231.50" width="1.2" height="84.20" fill="#089981"/>
<rect x="802.28" y="258.30" width="4.2" height="50.50" fill="#089981"/>
<rect x="809.05" y="231.50" width="1.2" height="33.25" fill="#089981"/>
<rect x="807.55" y="252.00" width="4.2" height="6.30" fill="#089981"/>
<rect x="814.32" y="239.50" width="1.2" height="32.50" fill="#f23645"/>
<rect x="812.82" y="252.00" width="4.2" height="9.00" fill="#f23645"/>
<rect x="819.59" y="251.25" width="1.2" height="43.25" fill="#f23645"/>
<rect x="818.09" y="261.00" width="4.2" height="19.75" fill="#f23645"/>
<rect x="824.85" y="278.00" width="1.2" height="55.70" fill="#f23645"/>
<rect x="823.35" y="280.75" width="4.2" height="27.00" fill="#f23645"/>
<rect x="830.12" y="256.50" width="1.2" height="64.75" fill="#089981"/>
<rect x="828.62" y="259.20" width="4.2" height="48.55" fill="#089981"/>
<rect x="835.39" y="255.50" width="1.2" height="23.00" fill="#f23645"/>
<rect x="833.89" y="259.20" width="4.2" height="13.30" fill="#f23645"/>
<rect x="840.65" y="265.50" width="1.2" height="59.20" fill="#f23645"/>
<rect x="839.15" y="272.50" width="4.2" height="34.20" fill="#f23645"/>
<rect x="845.92" y="295.00" width="1.2" height="17.25" fill="#089981"/>
<rect x="844.42" y="304.75" width="4.2" height="1.95" fill="#089981"/>
<rect x="851.19" y="296.50" width="1.2" height="23.00" fill="#089981"/>
<rect x="849.69" y="303.40" width="4.2" height="1.20" fill="#089981"/>
<rect x="856.45" y="294.25" width="1.2" height="105.55" fill="#f23645"/>
<rect x="854.95" y="304.00" width="4.2" height="84.25" fill="#f23645"/>
<rect x="861.72" y="363.20" width="1.2" height="83.05" fill="#089981"/>
<rect x="860.22" y="375.00" width="4.2" height="13.20" fill="#089981"/>
<rect x="866.99" y="372.50" width="1.2" height="49.75" fill="#f23645"/>
<rect x="865.49" y="375.00" width="4.2" height="34.80" fill="#f23645"/>
<rect x="872.25" y="393.30" width="1.2" height="30.45" fill="#089981"/>
<rect x="870.75" y="409.20" width="4.2" height="1.20" fill="#089981"/>
<rect x="877.52" y="405.00" width="1.2" height="72.60" fill="#f23645"/>
<rect x="876.02" y="409.20" width="4.2" height="15.60" fill="#f23645"/>
<rect x="882.79" y="404.00" width="1.2" height="26.50" fill="#089981"/>
<rect x="881.29" y="411.00" width="4.2" height="13.80" fill="#089981"/>
<rect x="888.05" y="183.00" width="1.2" height="232.80" fill="#089981"/>
<rect x="886.55" y="202.00" width="4.2" height="209.75" fill="#089981"/>
<rect x="893.32" y="195.00" width="1.2" height="186.30" fill="#f23645"/>
<rect x="891.82" y="202.00" width="4.2" height="154.75" fill="#f23645"/>
<rect x="898.59" y="314.50" width="1.2" height="91.00" fill="#089981"/>
<rect x="897.09" y="338.00" width="4.2" height="18.75" fill="#089981"/>
<rect x="903.85" y="313.70" width="1.2" height="36.80" fill="#089981"/>
<rect x="902.35" y="325.25" width="4.2" height="12.75" fill="#089981"/>
<rect x="909.12" y="284.30" width="1.2" height="48.20" fill="#089981"/>
<rect x="907.62" y="297.50" width="4.2" height="28.00" fill="#089981"/>
<rect x="914.39" y="291.20" width="1.2" height="77.10" fill="#f23645"/>
<rect x="912.89" y="297.50" width="4.2" height="60.00" fill="#f23645"/>
<rect x="919.65" y="350.50" width="1.2" height="29.75" fill="#f23645"/>
<rect x="918.15" y="357.20" width="4.2" height="16.50" fill="#f23645"/>
<rect x="924.92" y="366.50" width="1.2" height="74.50" fill="#f23645"/>
<rect x="923.42" y="373.25" width="4.2" height="53.50" fill="#f23645"/>
<rect x="930.19" y="392.25" width="1.2" height="74.55" fill="#f23645"/>
<rect x="928.69" y="426.00" width="4.2" height="33.75" fill="#f23645"/>
<rect x="935.45" y="405.00" width="1.2" height="87.50" fill="#089981"/>
<rect x="933.95" y="417.00" width="4.2" height="43.00" fill="#089981"/>
<rect x="940.72" y="388.20" width="1.2" height="39.60" fill="#089981"/>
<rect x="939.22" y="397.50" width="4.2" height="20.25" fill="#089981"/>
<rect x="945.99" y="368.30" width="1.2" height="35.95" fill="#089981"/>
<rect x="944.49" y="394.00" width="4.2" height="3.80" fill="#089981"/>
<rect x="951.26" y="356.50" width="1.2" height="41.30" fill="#089981"/>
<rect x="949.76" y="365.30" width="4.2" height="29.20" fill="#089981"/>
<rect x="956.52" y="332.50" width="1.2" height="37.50" fill="#089981"/>
<rect x="955.02" y="356.00" width="4.2" height="9.75" fill="#089981"/>
<rect x="961.79" y="350.50" width="1.2" height="38.75" fill="#f23645"/>
<rect x="960.29" y="356.00" width="4.2" height="26.80" fill="#f23645"/>
<rect x="967.06" y="359.50" width="1.2" height="24.00" fill="#089981"/>
<rect x="965.56" y="369.80" width="4.2" height="13.00" fill="#089981"/>
<rect x="972.32" y="368.50" width="1.2" height="34.25" fill="#f23645"/>
<rect x="970.82" y="369.80" width="4.2" height="16.00" fill="#f23645"/>
<rect x="977.59" y="300.20" width="1.2" height="89.80" fill="#089981"/>
<rect x="976.09" y="312.00" width="4.2" height="73.80" fill="#089981"/>
<rect x="982.86" y="307.25" width="1.2" height="48.75" fill="#f23645"/>
<rect x="981.36" y="312.00" width="4.2" height="32.00" fill="#f23645"/>
<rect x="988.12" y="334.25" width="1.2" height="30.45" fill="#f23645"/>
<rect x="986.62" y="343.25" width="4.2" height="15.45" fill="#f23645"/>
<rect x="993.39" y="348.50" width="1.2" height="15.50" fill="#f23645"/>
<rect x="991.89" y="358.25" width="4.2" height="3.45" fill="#f23645"/>
<rect x="998.66" y="341.00" width="1.2" height="21.50" fill="#089981"/>
<rect x="997.16" y="342.20" width="4.2" height="19.50" fill="#089981"/>
<rect x="1003.92" y="324.20" width="1.2" height="24.60" fill="#089981"/>
<rect x="1002.42" y="339.50" width="4.2" height="3.00" fill="#089981"/>
<rect x="1009.19" y="331.25" width="1.2" height="19.25" fill="#f23645"/>
<rect x="1007.69" y="339.20" width="4.2" height="1.20" fill="#f23645"/>
<rect x="1014.46" y="330.80" width="1.2" height="41.70" fill="#f23645"/>
<rect x="1012.96" y="339.80" width="4.2" height="27.90" fill="#f23645"/>
<rect x="1019.72" y="355.70" width="1.2" height="24.55" fill="#f23645"/>
<rect x="1018.22" y="367.25" width="4.2" height="3.00" fill="#f23645"/>
<rect x="1024.99" y="368.75" width="1.2" height="52.75" fill="#f23645"/>
<rect x="1023.49" y="369.80" width="4.2" height="37.20" fill="#f23645"/>
<rect x="1030.26" y="402.30" width="1.2" height="45.00" fill="#f23645"/>
<rect x="1028.76" y="406.50" width="4.2" height="21.00" fill="#f23645"/>
<rect x="1035.52" y="404.70" width="1.2" height="30.00" fill="#089981"/>
<rect x="1034.02" y="425.90" width="4.2" height="1.20" fill="#089981"/>
<rect x="1040.79" y="425.00" width="1.2" height="33.00" fill="#f23645"/>
<rect x="1039.29" y="426.00" width="4.2" height="13.80" fill="#f23645"/>
<rect x="1046.06" y="409.20" width="1.2" height="37.50" fill="#089981"/>
<rect x="1044.56" y="426.00" width="4.2" height="13.80" fill="#089981"/>
<rect x="1051.32" y="399.50" width="1.2" height="69.25" fill="#f23645"/>
<rect x="1049.82" y="426.00" width="4.2" height="32.70" fill="#f23645"/>
<rect x="1056.59" y="442.20" width="1.2" height="33.60" fill="#089981"/>
<rect x="1055.09" y="447.00" width="4.2" height="11.70" fill="#089981"/>
<rect x="1061.86" y="419.00" width="1.2" height="40.75" fill="#089981"/>
<rect x="1060.36" y="427.80" width="4.2" height="19.20" fill="#089981"/>
<rect x="1067.12" y="415.20" width="1.2" height="17.55" fill="#089981"/>
<rect x="1065.62" y="424.20" width="4.2" height="4.30" fill="#089981"/>
<rect x="1072.39" y="419.70" width="1.2" height="82.55" fill="#f23645"/>
<rect x="1070.89" y="424.20" width="4.2" height="63.05" fill="#f23645"/>
<rect x="1077.66" y="462.75" width="1.2" height="109.25" fill="#f23645"/>
<rect x="1076.16" y="487.25" width="4.2" height="6.25" fill="#f23645"/>
<rect x="1082.93" y="471.75" width="1.2" height="54.95" fill="#f23645"/>
<rect x="1081.43" y="493.25" width="4.2" height="28.50" fill="#f23645"/>
<rect x="1088.19" y="439.20" width="1.2" height="102.50" fill="#089981"/>
<rect x="1086.69" y="450.00" width="4.2" height="71.75" fill="#089981"/>
<rect x="1093.46" y="448.20" width="1.2" height="38.30" fill="#f23645"/>
<rect x="1091.96" y="450.00" width="4.2" height="24.75" fill="#f23645"/>
<rect x="1098.73" y="446.70" width="1.2" height="32.55" fill="#089981"/>
<rect x="1097.23" y="458.25" width="4.2" height="16.50" fill="#089981"/>
<rect x="1103.99" y="412.75" width="1.2" height="50.45" fill="#089981"/>
<rect x="1102.49" y="420.25" width="4.2" height="38.25" fill="#089981"/>
<rect x="1109.26" y="395.80" width="1.2" height="45.70" fill="#f23645"/>
<rect x="1107.76" y="420.25" width="4.2" height="11.25" fill="#f23645"/>
<rect x="1114.53" y="414.25" width="1.2" height="21.25" fill="#089981"/>
<rect x="1113.03" y="429.25" width="4.2" height="2.55" fill="#089981"/>
<rect x="1119.79" y="412.75" width="1.2" height="29.25" fill="#f23645"/>
<rect x="1118.29" y="429.25" width="4.2" height="12.45" fill="#f23645"/>
<rect x="1125.06" y="428.20" width="1.2" height="26.00" fill="#f23645"/>
<rect x="1123.56" y="441.40" width="4.2" height="1.20" fill="#f23645"/>
<rect x="1130.33" y="432.50" width="1.2" height="17.00" fill="#f23645"/>
<rect x="1128.83" y="441.50" width="4.2" height="4.75" fill="#f23645"/>
<rect x="1135.59" y="439.30" width="1.2" height="13.20" fill="#f23645"/>
<rect x="1134.09" y="446.00" width="4.2" height="1.75" fill="#f23645"/>
<rect x="1140.86" y="438.00" width="1.2" height="10.00" fill="#089981"/>
<rect x="1139.36" y="440.50" width="4.2" height="7.25" fill="#089981"/>
<rect x="1146.13" y="438.50" width="1.2" height="15.00" fill="#f23645"/>
<rect x="1144.63" y="440.50" width="4.2" height="2.75" fill="#f23645"/>
<rect x="1151.39" y="425.20" width="1.2" height="21.80" fill="#089981"/>
<rect x="1149.89" y="440.50" width="4.2" height="2.75" fill="#089981"/>
<rect x="1156.66" y="395.00" width="1.2" height="51.25" fill="#089981"/>
<rect x="1155.16" y="404.80" width="4.2" height="36.00" fill="#089981"/>
<rect x="1161.93" y="380.50" width="1.2" height="31.20" fill="#089981"/>
<rect x="1160.43" y="403.90" width="4.2" height="1.20" fill="#089981"/>
<rect x="1167.19" y="399.25" width="1.2" height="31.95" fill="#f23645"/>
<rect x="1165.69" y="404.20" width="4.2" height="3.60" fill="#f23645"/>
<rect x="1172.46" y="403.75" width="1.2" height="14.75" fill="#f23645"/>
<rect x="1170.96" y="407.80" width="4.2" height="7.20" fill="#f23645"/>
<rect x="1177.73" y="396.00" width="1.2" height="19.50" fill="#089981"/>
<rect x="1176.23" y="411.25" width="4.2" height="3.75" fill="#089981"/>
<rect x="1182.99" y="382.50" width="1.2" height="37.00" fill="#089981"/>
<rect x="1181.49" y="394.00" width="4.2" height="17.50" fill="#089981"/>
<rect x="1188.26" y="363.70" width="1.2" height="40.05" fill="#089981"/>
<rect x="1186.76" y="382.50" width="4.2" height="12.25" fill="#089981"/>
<rect x="1193.53" y="377.00" width="1.2" height="25.70" fill="#f23645"/>
<rect x="1192.03" y="382.50" width="4.2" height="16.50" fill="#f23645"/>
<rect x="1198.79" y="392.00" width="1.2" height="38.50" fill="#f23645"/>
<rect x="1197.29" y="398.50" width="4.2" height="14.00" fill="#f23645"/>
<rect x="1204.06" y="393.00" width="1.2" height="20.00" fill="#089981"/>
<rect x="1202.56" y="405.50" width="4.2" height="7.00" fill="#089981"/>
<rect x="1209.33" y="397.75" width="1.2" height="12.75" fill="#f23645"/>
<rect x="1207.83" y="405.50" width="4.2" height="1.50" fill="#f23645"/>
<rect x="1214.60" y="403.00" width="1.2" height="12.00" fill="#f23645"/>
<rect x="1213.10" y="406.75" width="4.2" height="6.75" fill="#f23645"/>
<rect x="1219.86" y="403.75" width="1.2" height="18.45" fill="#f23645"/>
<rect x="1218.36" y="413.00" width="4.2" height="8.50" fill="#f23645"/>
<rect x="1225.13" y="409.00" width="1.2" height="25.80" fill="#f23645"/>
<rect x="1223.63" y="421.00" width="4.2" height="7.80" fill="#f23645"/>
<rect x="1230.40" y="420.25" width="1.2" height="22.35" fill="#089981"/>
<rect x="1228.90" y="421.75" width="4.2" height="7.05" fill="#089981"/>
<rect x="1235.66" y="417.25" width="1.2" height="18.45" fill="#f23645"/>
<rect x="1234.16" y="421.75" width="4.2" height="8.25" fill="#f23645"/>
<rect x="1240.93" y="372.25" width="1.2" height="58.95" fill="#089981"/>
<rect x="1239.43" y="373.30" width="4.2" height="57.20" fill="#089981"/>
<rect x="1246.20" y="345.00" width="1.2" height="39.70" fill="#089981"/>
<rect x="1244.70" y="361.50" width="4.2" height="12.25" fill="#089981"/>
</g>
<line x1="2.5" y1="74" x2="1526.0" y2="74" stroke="#8e9099" stroke-width="1.4" stroke-dasharray="1.1 1.6"/>
<line x1="2.5" y1="361.3" x2="1462" y2="361.3" stroke="#f23645" stroke-width="1.3" stroke-dasharray="1.1 1.6"/>
<rect x="1246.9" y="375.2" width="195" height="49.5" fill="#2962ff" fill-opacity="0.2"/>
<g stroke="#2962ff" stroke-width="1.2" fill="none">
<line x1="1246.9" y1="400.5" x2="1441.5" y2="400.5"/>
<line x1="1344" y1="375.3" x2="1344" y2="424.7"/>
<polyline points="1436,395.5 1441.5,400.5 1436,405.5"/>
</g>
<rect x="1271.8" y="285.8" width="144.2" height="78.4" rx="4.5" fill="#2962ff"/>
<g class="ax" text-anchor="middle">
<text class="w" x="1343.6" y="307.1" textLength="125" lengthAdjust="spacingAndGlyphs">0.1760 (8.21%) 1,760</text>
<text class="w" x="1343.8" y="329.6" textLength="73.5" lengthAdjust="spacingAndGlyphs">37 bars, 37d</text>
<text class="w" x="1344.3" y="351.7" textLength="66.2" lengthAdjust="spacingAndGlyphs">Vol 41.33 M</text>
</g>
<filter id="halo" x="-5%" y="-30%" width="110%" height="160%"><feMorphology in="SourceAlpha" operator="dilate" radius="1.6" result="d"/><feFlood flood-color="#fff" result="f"/><feComposite in="f" in2="d" operator="in" result="h"/><feMerge><feMergeNode in="h"/><feMergeNode in="SourceGraphic"/></feMerge></filter>
<g filter="url(#halo)">
<g transform="translate(16,587.3) scale(0.9167)" fill="#191919">
<path d="M14 22H7V11H0V4h14v18z"/><path d="M28 22h-8l7.5-18h8L28 22z"/><circle cx="20" cy="8" r="4"/>
</g>
<text x="57.7" y="607.5" font-size="22.4px" font-weight="bold" textLength="133.6" lengthAdjust="spacingAndGlyphs" stroke-linejoin="round" style="fill:#191919;stroke:#191919;stroke-width:.45px">TradingView</text>
</g>
<g transform="translate(1246.7,608.4)">
<circle r="10.9" fill="#fff" stroke="#9c27b0" stroke-width="1.6"/>
<path d="M3.9,-5.6 L-3.9,0.3 L0.2,0.5 L-3.7,6.1 L4.5,-0.2 L0.6,-0.5 Z" fill="#9c27b0" stroke="#9c27b0" stroke-width="0.5" stroke-linejoin="round"/>
</g>
<rect x="1526.0" y="0" width="72.5" height="656" fill="#fff"/>
<line x1="1525.5" y1="0" x2="1525.5" y2="623.5" stroke="#ebedf1" stroke-width="1"/>
<rect x="1527.0" y="375.3" width="73.0" height="49.4" fill="#2962ff" fill-opacity="0.25"/>
<g class="ax">
<text x="1536" y="78.9" textLength="40" lengthAdjust="spacingAndGlyphs">3.4000</text>
<text x="1536" y="134.7" textLength="40" lengthAdjust="spacingAndGlyphs">3.2000</text>
<text x="1536" y="190.5" textLength="40" lengthAdjust="spacingAndGlyphs">3.0000</text>
<text x="1536" y="246.3" textLength="40" lengthAdjust="spacingAndGlyphs">2.8000</text>
<text x="1536" y="302.1" textLength="40" lengthAdjust="spacingAndGlyphs">2.6000</text>
<text x="1536" y="357.9" textLength="40" lengthAdjust="spacingAndGlyphs">2.4000</text>
<text x="1536" y="469.5" textLength="40" lengthAdjust="spacingAndGlyphs">2.0000</text>
<text x="1536" y="525.3" textLength="40" lengthAdjust="spacingAndGlyphs">1.8000</text>
<text x="1536" y="581.1" textLength="40" lengthAdjust="spacingAndGlyphs">1.6000</text>
</g>
<rect x="1530.3" y="3.3" width="64.5" height="27.7" rx="4" fill="#fff" stroke="#eff0f3" stroke-width="1.2"/>
<text x="1535" y="22.8" font-size="14px" textLength="31.5" lengthAdjust="spacingAndGlyphs">USDT</text>
<polyline points="1584.2,15.7 1586.9,18.3 1589.6,15.7" fill="none" stroke="#131722" stroke-width="1.4"/>
<rect x="1462.6" y="352" width="63.4" height="18.4" rx="2" fill="#089981"/>
<path d="M1527,352 h65 a2,2 0 0 1 2,2 v30.6 a2,2 0 0 1 -2,2 h-65 z" fill="#089981"/>
<path d="M1527,366.3 h53 a2,2 0 0 1 2,2 v14.2 a2,2 0 0 1 -2,2 h-53 z" fill="#2962ff"/>
<path d="M1527,397.3 h53 a2,2 0 0 1 2,2 v33.3 a2,2 0 0 1 -2,2 h-53 z" fill="#2962ff"/>
<line x1="1527" y1="415.3" x2="1582" y2="415.3" stroke="#5b84ff" stroke-width="0.6"/>
<g class="ax">
<text class="w" x="1467.7" y="365.6" textLength="52.8" lengthAdjust="spacingAndGlyphs">XRPUSDT</text>
<text class="w" x="1537.2" y="365.6" textLength="40" lengthAdjust="spacingAndGlyphs">2.3718</text>
<text class="w" x="1537.2" y="380.3" textLength="40" lengthAdjust="spacingAndGlyphs">2.3189</text>
<text x="1582.4" y="381.6" style="fill:#c9e8e1;stroke:none">6</text>
<text class="w" x="1537.2" y="411.7" textLength="40" lengthAdjust="spacingAndGlyphs">2.2071</text>
<text class="w" x="1537.2" y="430.4" textLength="40" lengthAdjust="spacingAndGlyphs">2.1429</text>
</g>
<path d="M1527,604.6 h57.4 a2,2 0 0 1 2,2 v14.4 a2,2 0 0 1 -2,2 h-57.4 z" fill="#26a69a"/>
<text class="ax w" x="1536.5" y="618.6" textLength="44.8" lengthAdjust="spacingAndGlyphs">41.33 M</text>
<rect x="1245.8" y="623.3" width="196.2" height="31.4" fill="#2962ff" fill-opacity="0.25"/>
<g class="ax" text-anchor="middle" clip-path="url(#taxis)">
<text x="87.3" y="643.7">Oct</text>
<text x="250.7" y="643.7">Nov</text>
<text x="408.7" y="643.7">Dec</text>
<text x="735.4" y="643.7">Feb</text>
<text x="883.0" y="643.7">Mar</text>
<text x="1046.3" y="643.7">Apr</text>
<text x="1204.4" y="643.7">May</text>
<text x="1367.8" y="643.7">Jun</text>
<text x="1525.9" y="643.7">Jul</text>
<text x="572.1" y="643.7" font-weight="bold">2025</text>
</g>
<g fill="none" stroke="#131722" stroke-width="1.35" stroke-linejoin="round">
<path d="M1555.8,639.6 L1559.9,632.4 H1567.9 L1571.9,639.6 L1567.9,646.8 H1559.9 Z"/>
<circle cx="1563.8" cy="639.6" r="2.3"/>
</g>
<line x1="2.5" y1="654.9" x2="1598.5" y2="654.9" stroke="#ececec" stroke-width="1.2"/>
<g class="tb">
<text x="19.2" y="681.8" textLength="16.9" lengthAdjust="spacingAndGlyphs">1D</text>
<text x="50.0" y="681.8" textLength="17.0" lengthAdjust="spacingAndGlyphs">5D</text>
<text x="81.5" y="681.8" textLength="18.5" lengthAdjust="spacingAndGlyphs">1M</text>
<text x="114.0" y="681.8" textLength="18.5" lengthAdjust="spacingAndGlyphs">3M</text>
<text x="146.0" y="681.8" textLength="19.0" lengthAdjust="spacingAndGlyphs">6M</text>
<text x="179.0" y="681.8" textLength="27.0" lengthAdjust="spacingAndGlyphs">YTD</text>
<text x="220.0" y="681.8" textLength="15.5" lengthAdjust="spacingAndGlyphs">1Y</text>
<text x="250.5" y="681.8" textLength="18.5" lengthAdjust="spacingAndGlyphs">All</text>
<text x="1495.8" y="681.8" textLength="58.7" lengthAdjust="spacingAndGlyphs">10:11:43</text>
<text x="1560.8" y="681.8" textLength="27" lengthAdjust="spacingAndGlyphs">UTC</text>
</g>
<line x1="280.2" y1="664" x2="280.2" y2="689" stroke="#e0e3eb" stroke-width="1"/>
<g fill="none" stroke="#131722" stroke-width="1.4" stroke-linecap="round" stroke-linejoin="round">
<path d="M296.9,674.5 V670 a2.3,2.3 0 0 1 2.3,-2.3 H314 a2.3,2.3 0 0 1 2.3,2.3 V682.3 a2.3,2.3 0 0 1 -2.3,2.3 H307"/>
<path d="M296.9,672.2 H316.3"/>
<path d="M302.8,665.5 V669.5 M310.5,665.5 V669.5"/>
<path d="M295.8,681.4 H304 M300.3,677.5 L304,681.4 L300.3,685.4"/>
</g>
<rect x="0" y="0" width="2.5" height="703" fill="#ebebeb"/>
<rect x="1598.6" y="0" width="1.4" height="703" fill="#ebebeb"/>
<rect x="0" y="697.4" width="1600" height="5.6" fill="#ebebeb"/>
<path d="M2.5,703 V704 H1598.6 V703 a2,2 0 0 0 -2,-1.6 H4.5 a2,2 0 0 0 -2,1.6 z" fill="#fff"/>
<path d="M2.5,697.4 v-3 a3,3 0 0 0 3,3 z" fill="#ebebeb"/>
<path d="M1598.6,697.4 v-3 a3,3 0 0 1 -3,3 z" fill="#ebebeb"/>
</svg></body></html>
